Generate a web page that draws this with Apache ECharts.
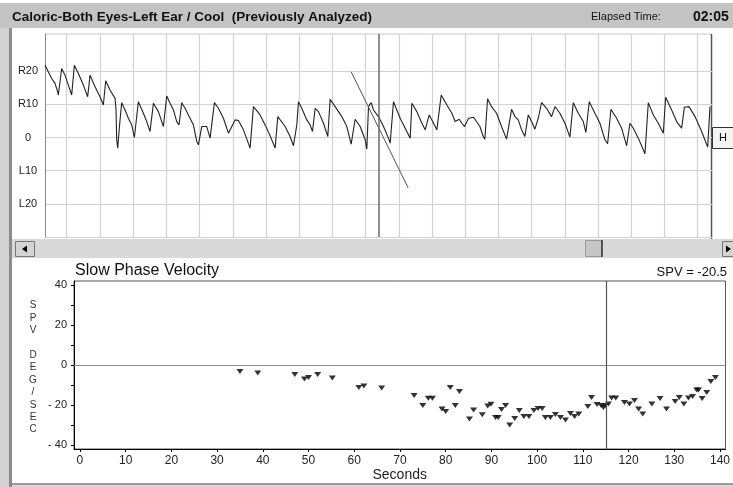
<!DOCTYPE html>
<html><head><meta charset="utf-8">
<script src="https://cdn.jsdelivr.net/npm/echarts@6/dist/echarts.min.js"></script>
<style>html,body{margin:0;padding:0;background:#fff}#c{width:733px;height:487px}</style>
</head><body><div id="c"></div>
<script>
// ---- Eye-position trace (top panel), seconds within the 20 s window ----
const traceTime = [
 0.00,0.20,0.30,0.38,0.40,0.45,0.50,0.60,0.70,0.80,
 0.88,1.00,1.15,1.28,1.35,1.50,1.55,1.65,1.75,1.82,
 1.95,2.10,2.13,2.15,2.18,2.20,2.25,2.30,2.40,2.50,
 2.60,2.68,2.80,2.95,3.05,3.15,3.25,3.40,3.55,3.65,
 3.75,3.85,3.95,4.02,4.10,4.20,4.30,4.45,4.55,4.60,
 4.70,4.85,4.95,5.08,5.20,5.35,5.50,5.70,5.80,5.95,
 6.15,6.25,6.45,6.60,6.75,6.90,6.98,7.20,7.35,7.45,
 7.55,7.60,7.70,7.85,7.95,8.02,8.10,8.20,8.35,8.48,
 8.55,8.70,8.90,9.05,9.18,9.30,9.45,9.60,9.65,9.70,
 9.78,9.85,10.00,10.15,10.30,10.35,10.45,10.55,10.65,10.80,
 10.95,11.00,11.15,11.30,11.40,11.52,11.60,11.75,11.88,12.05,
 12.20,12.30,12.42,12.50,12.58,12.70,12.85,13.04,13.14,13.19,
 13.27,13.39,13.54,13.69,13.84,13.99,14.09,14.19,14.29,14.39,
 14.49,14.59,14.69,14.79,14.89,15.04,15.19,15.29,15.44,15.59,
 15.74,15.84,15.99,16.14,16.22,16.32,16.49,16.64,16.79,16.87,
 16.97,17.14,17.29,17.44,17.54,17.64,17.79,17.99,18.09,18.24,
 18.39,18.54,18.61,18.79,18.94,19.09,19.17,19.31,19.49,19.69,
 19.87,19.94];
const traceValue = [
 21.8,17.8,16.3,13.8,12.8,13.3,20.8,18.8,15.8,12.8,
 21.8,19.3,15.8,12.3,18.8,15.3,14.8,12.3,9.8,17.1,
 14.3,11.8,8.3,-0.7,-3.2,-0.7,5.3,10.5,8.3,5.8,
 3.8,0.0,10.8,7.3,4.8,1.8,10.3,7.8,3.3,12.5,
 10.3,8.3,4.8,3.8,10.5,8.8,6.8,3.8,-1.2,-2.2,
 3.3,3.3,-0.2,10.5,8.8,5.8,1.3,5.3,5.1,2.3,
 -3.2,9.3,6.8,3.8,0.5,-3.2,6.3,3.3,0.3,-2.5,
 3.8,10.8,8.8,5.3,3.8,1.8,8.8,7.8,4.3,0.3,
 11.5,9.3,6.3,3.3,-2.0,5.5,3.3,-0.7,-3.5,9.3,
 10.5,8.3,6.3,3.3,-0.2,-1.7,10.8,8.3,5.8,2.8,
 -0.2,10.3,7.8,4.3,2.3,6.8,5.3,2.3,12.8,9.8,
 7.3,4.8,5.5,4.3,3.3,5.8,6.1,3.3,0.3,-0.5,
 11.7,9.3,7.3,3.3,-0.5,8.5,6.3,5.3,2.3,0.3,
 6.8,4.8,2.5,5.8,10.5,8.8,6.3,9.3,7.3,4.3,
 0.1,10.5,7.3,4.8,1.5,10.8,7.3,4.3,-0.7,-1.9,
 8.5,5.8,2.8,-2.5,4.3,2.8,-0.2,-4.9,10.5,6.8,
 4.3,1.3,12.1,8.3,4.8,2.8,9.1,9.3,6.3,1.8,
 -2.9,9.3];
const tangentTime = [9.18, 10.89];
const tangentValue = [19.8, -15.2];
const traceCursor = 10.02;
const traceGridTimes = [0.65,1.65,2.64,3.64,4.64,5.63,6.63,7.62,8.62,9.61,10.61,11.61,12.60,13.60,14.59,15.59,16.59,17.58,18.58,19.57];
const traceGridValues = [-30,-20,-10,0,10,20];
const traceTicks = [-20,-10,0,10,20];
const traceTickLabels = ['L20','L10','0','R10','R20'];

// ---- Slow phase velocity (bottom panel) ----
const spvSeconds = [35.0,38.9,47.0,49.1,50.0,52.0,55.2,61.0,62.1,66.0,
 73.1,75.0,76.2,77.1,79.2,80.0,81.0,82.1,83.0,85.2,
 86.1,88.0,89.2,89.9,90.9,91.5,92.2,93.1,94.0,95.1,
 96.1,97.1,98.2,99.3,100.2,101.1,101.8,102.9,104.0,105.1,
 106.2,107.3,108.2,109.1,111.1,111.9,113.1,114.0,114.5,114.9,
 115.6,116.3,117.2,119.1,120.2,121.3,122.2,123.1,125.1,126.9,
 128.3,130.2,131.1,132.1,133.1,134.0,134.9,135.3,136.1,137.1,
 138.0,139.0];
const spvValues = [-3.2,-4.0,-4.8,-7.0,-6.2,-4.8,-6.5,-11.2,-10.5,-11.5,
 -15.3,-20.3,-16.6,-16.6,-22.0,-23.3,-11.2,-20.3,-13.3,-27.0,
 -22.5,-24.9,-20.5,-19.6,-26.2,-26.2,-22.2,-20.3,-30.0,-26.7,
 -22.8,-25.7,-25.7,-22.8,-21.8,-21.8,-26.2,-26.2,-24.8,-26.2,
 -27.5,-24.2,-25.7,-24.5,-20.8,-16.3,-19.8,-20.3,-21.2,-20.3,
 -19.5,-16.5,-16.5,-18.7,-19.5,-17.8,-22.0,-24.5,-19.5,-16.7,
 -22.0,-18.3,-16.2,-19.5,-16.5,-15.8,-12.5,-12.5,-16.7,-13.7,
 -8.3,-6.2];
const spvCursor = 115.2;
const spvXTicks = [0,10,20,30,40,50,60,70,80,90,100,110,120,130,140];
const spvYTicks = [-40,-20,0,20,40];
const spvYMinorTicks = [-40,-30,-20,-10,0,10,20,30,40];
const spvLabel = 'SPV = -20.5';
const titleText = 'Caloric-Both Eyes-Left Ear / Cool  (Previously Analyzed)';
const elapsedLabel = 'Elapsed Time:';
const elapsedValue = '02:05';

const FONT = '"Liberation Sans", Arial, sans-serif';
const chart = echarts.init(document.getElementById('c'), null, {renderer:'canvas'});

const traceData = traceTime.map((t,i)=>[t, traceValue[i]]);
const tangentData = tangentTime.map((t,i)=>[t, tangentValue[i]]);
const spvData = spvSeconds.map((t,i)=>[t, spvValues[i]]);

const graphics = [
  {type:'rect', shape:{x:0,y:3,width:733,height:25}, style:{fill:'#c4c4c4'}, z:-1},
  {type:'text', x:12, y:17, style:{text:titleText, font:'bold 13.5px '+FONT, fill:'#111', textVerticalAlign:'middle'}},
  {type:'text', x:591, y:17, style:{text:elapsedLabel, font:'11px '+FONT, fill:'#111', textVerticalAlign:'middle'}},
  {type:'text', x:693, y:17, style:{text:elapsedValue, font:'bold 14px '+FONT, fill:'#111', textVerticalAlign:'middle'}},
  {type:'rect', shape:{x:0,y:28,width:9,height:459}, style:{fill:'#d2d2d2'}},
  {type:'rect', shape:{x:9,y:28,width:3,height:459}, style:{fill:'#8c8c8c'}},
  {type:'rect', shape:{x:12,y:483,width:721,height:2}, style:{fill:'#9a9a9a'}},
  {type:'rect', shape:{x:12,y:485,width:721,height:2}, style:{fill:'#d6d6d6'}},
  {type:'line', shape:{x1:45,y1:34,x2:712,y2:34}, style:{stroke:'#c8c8c8',lineWidth:1}},
  {type:'line', shape:{x1:711.5,y1:34,x2:711.5,y2:239}, style:{stroke:'#555',lineWidth:1.5}},
  // scrollbar
  {type:'rect', shape:{x:12,y:239,width:721,height:19}, style:{fill:'#d9d9d9'}},
  {type:'rect', shape:{x:15.5,y:241.5,width:19,height:15}, style:{fill:'#d4d4d4',stroke:'#777',lineWidth:1}},
  {type:'polygon', shape:{points:[[22,249],[27,245.5],[27,252.5]]}, style:{fill:'#000'}},
  {type:'rect', shape:{x:585.5,y:240.5,width:16,height:16}, style:{fill:'#c6c6c6',stroke:'#999',lineWidth:1}},
  {type:'line', shape:{x1:602,y1:240,x2:602,y2:257}, style:{stroke:'#333',lineWidth:1.5}},
  {type:'rect', shape:{x:722.5,y:241.5,width:12,height:15}, style:{fill:'#d4d4d4',stroke:'#777',lineWidth:1}},
  {type:'polygon', shape:{points:[[731,249],[726,245.5],[726,252.5]]}, style:{fill:'#000'}},
  // H button
  {type:'rect', shape:{x:712.5,y:127.5,width:21,height:21}, style:{fill:'#f4f4f4',stroke:'#333',lineWidth:1}},
  {type:'text', x:723, y:138, style:{text:'H', font:'11px '+FONT, fill:'#111', textAlign:'center', textVerticalAlign:'middle'}},
  // bottom panel texts
  {type:'text', x:75, y:271, style:{text:'Slow Phase Velocity', font:'16px '+FONT, fill:'#111', textVerticalAlign:'middle'}},
  {type:'text', x:727, y:272, style:{text:spvLabel, font:'13px '+FONT, fill:'#111', textAlign:'right', textVerticalAlign:'middle'}},
  {type:'text', x:33, y:299.5, style:{text:'S\nP\nV\n\nD\nE\nG\n/\nS\nE\nC', font:'10px '+FONT, lineHeight:12.4, fill:'#333', textAlign:'center', textVerticalAlign:'top'}}
];

const option = {
  animation:false,
  backgroundColor:'#fff',
  textStyle:{fontFamily:FONT},
  grid:[
    {left:45, top:34, width:667, height:203},
    {left:74, top:281, width:654, height:168, show:true, borderColor:'#555', borderWidth:1, backgroundColor:'transparent'}
  ],
  xAxis:[
    {gridIndex:0, type:'value', min:0, max:20,
     axisLine:{show:false}, axisTick:{show:false, customValues:traceGridTimes},
     axisLabel:{show:false}, splitLine:{show:true, lineStyle:{color:'#d2d2d2', width:1.2}}},
    {gridIndex:1, type:'value', min:-1.3, max:141.2,
     axisLine:{show:true, onZero:false, lineStyle:{color:'#000'}},
     axisTick:{show:true, customValues:spvXTicks, length:3, lineStyle:{color:'#000'}},
     axisLabel:{customValues:spvXTicks, color:'#222', fontSize:12, margin:6},
     splitLine:{show:false},
     name:'Seconds', nameLocation:'middle', nameGap:17, nameTextStyle:{fontSize:14, color:'#222'}}
  ],
  yAxis:[
    {gridIndex:0, type:'value', min:-30, max:31.2,
     axisLine:{show:true, lineStyle:{color:'#888'}},
     axisTick:{show:false, customValues:traceGridValues},
     axisLabel:{customValues:traceTicks, formatter:v=>traceTickLabels[traceTicks.indexOf(v)], align:'center', margin:17, fontSize:11, color:'#222'},
     splitLine:{show:true, lineStyle:{color:'#d2d2d2', width:1.2}}},
    {gridIndex:1, type:'value', min:-42, max:42,
     axisLine:{show:true, onZero:false, lineStyle:{color:'#000'}},
     axisTick:{show:true, customValues:spvYMinorTicks, length:3, lineStyle:{color:'#000'}},
     axisLabel:{customValues:spvYTicks, formatter:v=> v<0 ? '- '+Math.abs(v) : String(v), color:'#222', fontSize:11, margin:7},
     splitLine:{show:false}}
  ],
  series:[
    {type:'line', xAxisIndex:0, yAxisIndex:0, data:traceData, showSymbol:false, silent:true,
     lineStyle:{color:'#222', width:1.1},
     markLine:{silent:true, symbol:['none','none'], label:{show:false},
       lineStyle:{color:'#6a6a6a', width:1.5, type:'solid'}, data:[{xAxis:traceCursor}]}},
    {type:'line', xAxisIndex:0, yAxisIndex:0, data:tangentData, showSymbol:false, silent:true,
     lineStyle:{color:'#555', width:1}},
    {type:'scatter', xAxisIndex:1, yAxisIndex:1, data:spvData, symbol:'triangle', symbolRotate:180,
     symbolSize:[7,5], itemStyle:{color:'#000'}, silent:true,
     markLine:{silent:true, symbol:['none','none'], label:{show:false}, data:[
       {yAxis:0, lineStyle:{color:'#8a8a8a', width:1, type:'solid'}},
       {xAxis:spvCursor, lineStyle:{color:'#555', width:1.2, type:'solid'}}
     ]}}
  ],
  graphic:graphics
};
chart.setOption(option);
</script></body></html>
